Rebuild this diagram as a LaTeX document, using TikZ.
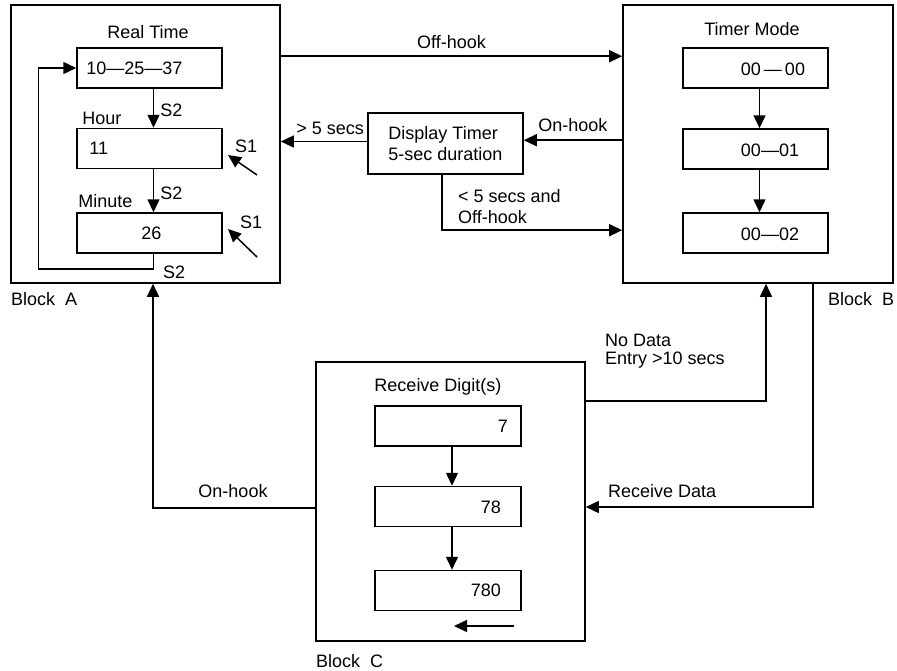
\documentclass[tikz,border=0pt]{standalone}
\usepackage{fontspec}
\setmainfont{Liberation Sans}
\usetikzlibrary{arrows.meta}
\tikzset{
  blk/.style={draw, line width=1.6pt, inner sep=0pt},
  cell/.style={draw, line width=1.5pt, minimum width=145pt, minimum height=40pt, inner sep=0pt},
  arr/.style={line width=1.5pt, -{Triangle[length=13pt,width=12pt]}},
  lbl/.style={inner sep=0pt, font=\fontsize{18}{18}\selectfont}
}
\begin{document}
\begin{tikzpicture}[x=1pt,y=-1pt]
\useasboundingbox (0,0) rectangle (897,670);
% Block A
\node[blk, minimum width=269pt, minimum height=278pt](blkA) at (145.5,144){};
\node[lbl](rtitle) at (148,32){Real Time};
\node[cell](a1) at (149.5,68){};
\node[cell](a2) at (149.5,148.5){};
\node[cell](a3) at (149.5,233){};
\node[lbl, anchor=west] at ([xshift=10pt]a1.west){10—25—37};
\node[lbl, anchor=west] at ([xshift=13pt]a2.west){11};
\node[lbl] at ([xshift=2pt]a3.center){26};
\node[lbl, anchor=base west] at ([xshift=6pt,yshift=3pt]a2.north west){Hour};
\node[lbl, anchor=base west] at ([xshift=2pt,yshift=5pt]a3.north west){Minute};
\draw[arr] ([xshift=4pt]a1.south) -- node[lbl, right=6pt, pos=0.55]{S2} ([xshift=4pt]a2.north);
\draw[arr] ([xshift=4pt]a2.south) -- node[lbl, right=6pt, pos=0.55]{S2} ([xshift=4pt]a3.north);
\draw[arr] ([xshift=4pt]a3.south) -- ++(0,15) -| ([xshift=-38pt]a1.west) -- (a1.west);
\node[lbl, anchor=west] at (163,272){S2};
\node[lbl, anchor=west] at (235,146){S1};
\node[lbl, anchor=west] at (240,222){S1};
\coordinate (s1a) at (257,175);
\coordinate (s1b) at (257,257);
\draw[arr] (s1a) -- (228,155);
\draw[arr] (s1b) -- (228,229);
\node[lbl, anchor=base west] at (11,305){Block~~A};
% Block B
\node[blk, minimum width=270pt, minimum height=278pt](blkB) at (758,144){};
\node[lbl](tmtitle) at (752,29){Timer Mode};
\node[cell](b1) at (755.5,68){};
\node[cell](b2) at (755.5,149){};
\node[cell](b3) at (755.5,233){};
\node[lbl] at (773,69){00\kern3pt—\kern3pt00};
\node[lbl] at (770,150){00—01};
\node[lbl] at (770,234){00—02};
\draw[arr] ([xshift=4pt]b1.south) -- ([xshift=4pt]b2.north);
\draw[arr] ([xshift=4pt]b2.south) -- ([xshift=4pt]b3.north);
\node[lbl, anchor=base west] at (828,305){Block~~B};
% Display timer
\node[blk, line width=1.5pt, minimum width=155pt, minimum height=61pt, align=left, font=\fontsize{18}{21}\selectfont](dt) at (445.5,143.5){Display Timer\\5-sec duration};
\draw[arr] ([yshift=-52pt]blkA.north east) -- node[lbl, above=7pt]{Off-hook} ([yshift=-52pt]blkB.north west);
\draw[arr] ([yshift=2pt]dt.west) -- node[lbl, above=6pt, xshift=6pt]{> 5 secs} ([yshift=2pt]dt.west -| blkA.east);
\draw[arr] ([yshift=-136pt]blkB.north west) -- node[lbl, above=8pt]{On-hook} ([yshift=-136pt]blkB.north west -| dt.east);
\draw[arr] ([xshift=-3.5pt]dt.south) |- ([yshift=-226pt]blkB.north west);
\node[lbl, anchor=north west, align=left, font=\fontsize{18}{21}\selectfont] at (458,189){< 5 secs and\\Off-hook};
% Block C
\node[blk, minimum width=269pt, minimum height=279pt](blkC) at (450.5,501.5){};
\node[lbl](rdtitle) at (438,387){Receive Digit(s)};
\node[cell, minimum width=146pt](c1) at (448,426){};
\node[cell, minimum width=146pt](c2) at (448,506.5){};
\node[cell, minimum width=146pt](c3) at (448,590.5){};
\node[lbl, anchor=east] at (508,426){7};
\node[lbl, anchor=east] at (501,507){78};
\node[lbl, anchor=east] at (501,590){780};
\draw[arr] ([xshift=4pt]c1.south) -- ([xshift=4pt]c2.north);
\draw[arr] ([xshift=4pt]c2.south) -- ([xshift=4pt]c3.north);
\coordinate (shift) at (514,626);
\draw[arr] (shift) -- (454,626);
\node[lbl, anchor=base west] at (316,667){Block~~C};
% links between blocks
\draw[arr] ([yshift=-40pt]blkC.north east) -| ([xshift=8pt]blkB.south);
\node[lbl, anchor=base west, align=left] at (605,364){No Data\\Entry >10 secs};
\draw[arr] ([xshift=55pt]blkB.south) |- ([yshift=-5.5pt]blkC.east);
\node[lbl, anchor=base west] at (608,497){Receive Data};
\draw[arr] ([yshift=-6.5pt]blkC.west) -| ([xshift=7.5pt]blkA.south);
\node[lbl, anchor=base] at (233,497){On-hook};
\end{tikzpicture}
\end{document}
